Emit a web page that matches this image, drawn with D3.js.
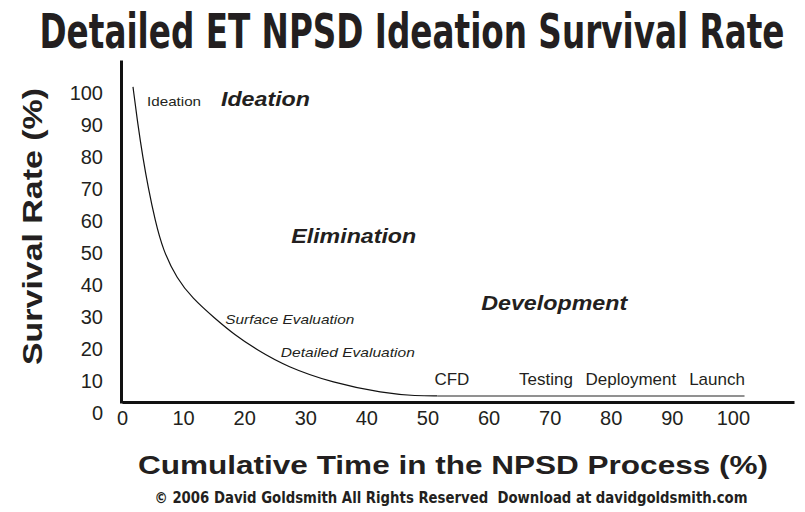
<!DOCTYPE html>
<html>
<head>
<meta charset="utf-8">
<script src="https://cdn.jsdelivr.net/npm/d3@7"></script>
<style>
  body { margin: 0; background: #fff; }
  text { fill: #231f20; }
</style>
</head>
<body>
<script>
// survival curve (time %, survival %)
var timePct = [1.8, 2.6, 3.4, 4.3, 5.4, 6.7, 9.0, 11.5, 15.1, 18.5, 22.1, 27.0, 34.5, 42.7, 48.3, 51.6];
var survivalPct = [98.8, 86.9, 76.9, 67.2, 57.2, 47.8, 38.8, 32.8, 26.6, 21.2, 16.6, 11.3, 6.3, 3.1, 2.2, 2.2];
// flat tail after CFD
var tailTime = [51.6, 101.9];
var tailSurvival = [2.2, 2.2];

var xTicks = [0, 10, 20, 30, 40, 50, 60, 70, 80, 90, 100];
var yTicks = [0, 10, 20, 30, 40, 50, 60, 70, 80, 90, 100];

// stage names along the tail
var stageNames = ["CFD", "Testing", "Deployment", "Launch"];
var stageTime = [54.0, 69.4, 83.3, 97.4];

// phase names (bold italic) and step names (small) with their anchor in data units
var phaseNames = ["Ideation", "Elimination", "Development"];
var phaseTime = [16.2, 27.7, 58.8];
var phaseSurvival = [92.8, 50.0, 29.1];
var stepNames = ["Ideation", "Surface Evaluation", "Detailed Evaluation"];
var stepTime = [4.1, 16.9, 26.0];
var stepSurvival = [92.8, 24.7, 14.4];

var svgWidth = 805;
var svgHeight = 512;

var svg = d3.select("body").append("svg")
  .attr("width", svgWidth)
  .attr("height", svgHeight);

var x = d3.scaleLinear().domain([0, 110]).range([122, 794]);
var y = d3.scaleLinear().domain([0, 107.2]).range([403, 60]);

// title (condensed font, stretched upward a bit)
svg.append("text")
  .attr("transform", "translate(412,48) scale(1,1.32)")
  .attr("text-anchor", "middle")
  .attr("font-family", "'Liberation Sans Narrow', 'DejaVu Sans Condensed', sans-serif")
  .attr("font-weight", "bold")
  .attr("font-size", "37px")
  .attr("textLength", 745)
  .attr("lengthAdjust", "spacingAndGlyphs")
  .text("Detailed ET NPSD Ideation Survival Rate");

// axes
var xAxis = svg.append("g")
  .attr("transform", "translate(0," + (y(0) - 1) + ")")
  .call(d3.axisBottom(x).tickValues(xTicks).tickSize(0).tickPadding(9));

var yAxis = svg.append("g")
  .attr("transform", "translate(" + (x(0) - 1) + ",0)")
  .call(d3.axisLeft(y).tickValues(yTicks).tickSize(0).tickPadding(18));

[xAxis, yAxis].forEach(function(g){
  g.select(".domain").attr("stroke", "#111").attr("stroke-width", 3);
  g.selectAll("text")
    .attr("font-family", "'Liberation Sans', Arial, sans-serif")
    .attr("font-size", "20px")
    .attr("fill", "#231f20");
});
yAxis.selectAll(".tick text").attr("y", 10);

// curve
var line = d3.line()
  .x(function(d){ return x(d[0]); })
  .y(function(d){ return y(d[1]); })
  .curve(d3.curveBasis);

svg.append("path")
  .datum(timePct.map(function(t, i){ return [t, survivalPct[i]]; }))
  .attr("d", line)
  .attr("fill", "none")
  .attr("stroke", "#111")
  .attr("stroke-width", 1.2);

svg.append("path")
  .datum(tailTime.map(function(t, i){ return [t, tailSurvival[i]]; }))
  .attr("d", d3.line().x(function(d){ return x(d[0]); }).y(function(d){ return y(d[1]); }))
  .attr("fill", "none")
  .attr("stroke", "#6d6d6d")
  .attr("stroke-width", 1.6);

// stage labels
svg.selectAll("text.stage").data(stageNames).enter()
  .append("text")
  .attr("class", "stage")
  .attr("x", function(d, i){ return x(stageTime[i]); })
  .attr("y", y(5.6))
  .attr("text-anchor", "middle")
  .attr("font-family", "'Liberation Sans', Arial, sans-serif")
  .attr("font-size", "17px")
  .text(function(d){ return d; });

// phase labels
var phaseWidth = [89, 125, 146];
svg.selectAll("text.phase").data(phaseNames).enter()
  .append("text")
  .attr("class", "phase")
  .attr("x", function(d, i){ return x(phaseTime[i]); })
  .attr("y", function(d, i){ return y(phaseSurvival[i]); })
  .attr("font-family", "'Liberation Sans', Arial, sans-serif")
  .attr("font-weight", "bold")
  .attr("font-style", "italic")
  .attr("font-size", "20px")
  .attr("textLength", function(d, i){ return phaseWidth[i]; })
  .attr("lengthAdjust", "spacingAndGlyphs")
  .text(function(d){ return d; });

// step labels
var stepWidth = [54, 129, 134];
svg.selectAll("text.step").data(stepNames).enter()
  .append("text")
  .attr("class", "step")
  .attr("x", function(d, i){ return x(stepTime[i]); })
  .attr("y", function(d, i){ return y(stepSurvival[i]); })
  .attr("font-family", "'Liberation Sans', Arial, sans-serif")
  .attr("font-style", function(d, i){ return i == 0 ? "normal" : "italic"; })
  .attr("font-size", "13px")
  .attr("textLength", function(d, i){ return stepWidth[i]; })
  .attr("lengthAdjust", "spacingAndGlyphs")
  .text(function(d){ return d; });

// axis titles
svg.append("text")
  .attr("x", 138)
  .attr("y", 474)
  .attr("font-family", "'Liberation Sans', Arial, sans-serif")
  .attr("font-weight", "bold")
  .attr("font-size", "25px")
  .attr("textLength", 630)
  .attr("lengthAdjust", "spacingAndGlyphs")
  .text("Cumulative Time in the NPSD Process (%)");

svg.append("text")
  .attr("transform", "translate(42,365) rotate(-90)")
  .attr("font-family", "'Liberation Sans', Arial, sans-serif")
  .attr("font-weight", "bold")
  .attr("font-size", "27px")
  .attr("textLength", 277)
  .attr("lengthAdjust", "spacingAndGlyphs")
  .text("Survival Rate (%)");

// footer
svg.append("text")
  .attr("transform", "translate(451,503) scale(1,1.12)")
  .attr("text-anchor", "middle")
  .attr("font-family", "'Liberation Sans Narrow', 'DejaVu Sans Condensed', sans-serif")
  .attr("font-weight", "bold")
  .attr("font-size", "14.5px")
  .attr("textLength", 593)
  .attr("lengthAdjust", "spacingAndGlyphs")
  .attr("xml:space", "preserve")
  .text("© 2006 David Goldsmith All Rights Reserved  Download at davidgoldsmith.com");
</script>
</body>
</html>
